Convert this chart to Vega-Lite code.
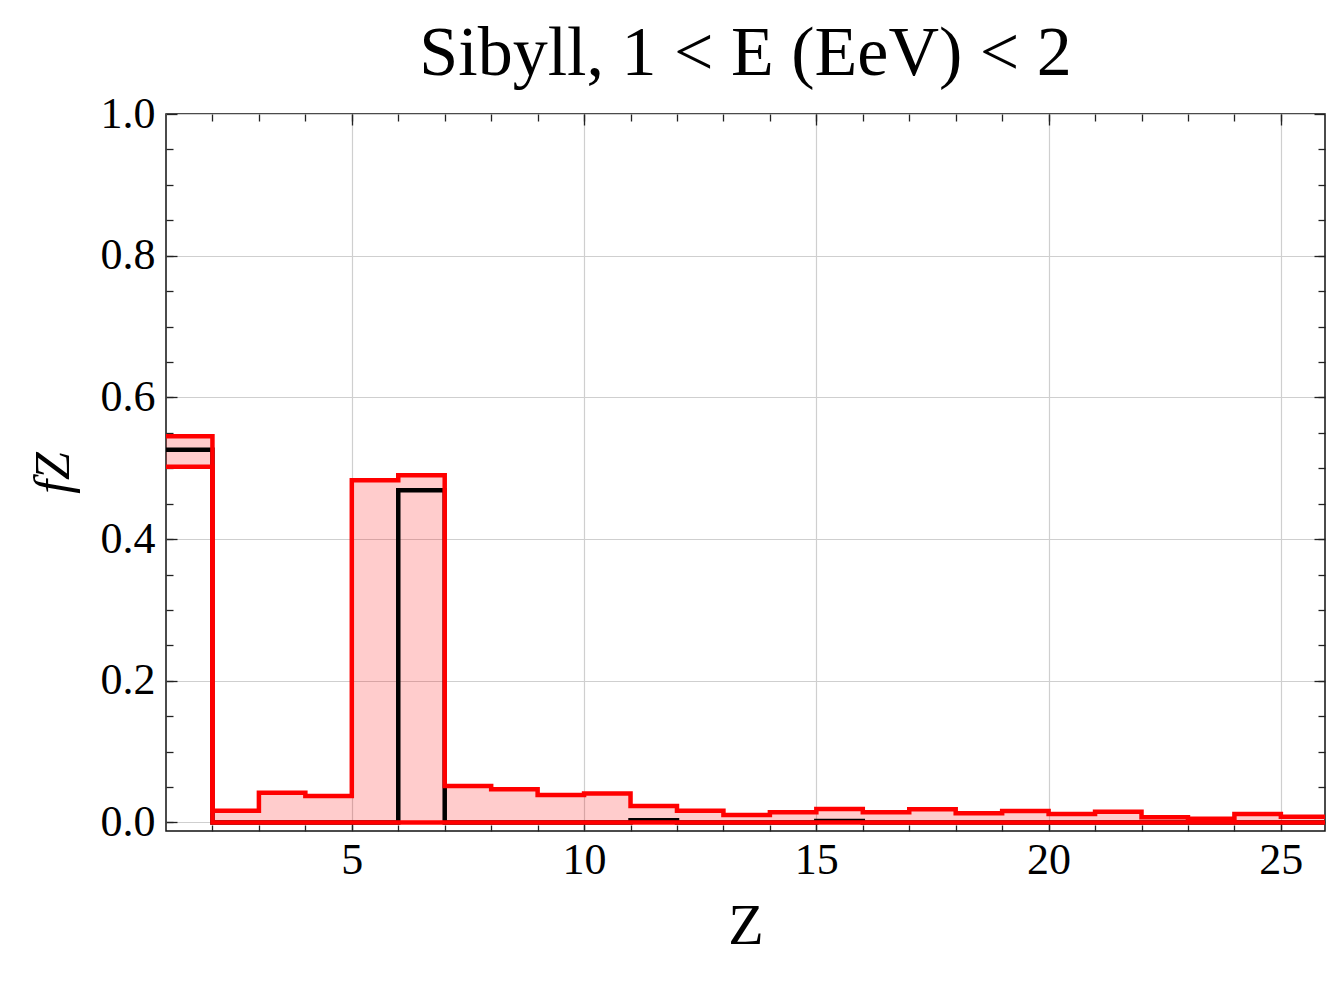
{
  "$schema": "https://vega.github.io/schema/vega-lite/v6.json",
  "width": 1159,
  "height": 717,
  "autosize": {"type": "none"},
  "padding": {"left": 166, "top": 114, "right": 9, "bottom": 153},
  "background": "white",
  "config": {
    "font": "Liberation Serif",
    "view": {"stroke": "#111111", "strokeWidth": 1.5},
    "axis": {
      "domain": false,
      "grid": false,
      "labels": false,
      "ticks": false,
      "title": null,
      "tickColor": "#222222",
      "tickWidth": 1.3,
      "labelColor": "black",
      "titleColor": "black",
      "labelFont": "Liberation Serif",
      "titleFont": "Liberation Serif",
      "titleFontWeight": "normal"
    }
  },
  "title": {
    "text": "Sibyll, 1 < E (EeV) < 2",
    "font": "Liberation Serif",
    "fontSize": 70,
    "fontWeight": "normal",
    "color": "black",
    "anchor": "middle",
    "offset": 2
  },
  "data": {
    "values": [
      {"z": 1, "lo": 0.502, "mid": 0.526, "hi": 0.545},
      {"z": 2, "lo": 0.0, "mid": 0.0, "hi": 0.0167},
      {"z": 3, "lo": 0.0, "mid": 0.0, "hi": 0.042},
      {"z": 4, "lo": 0.0, "mid": 0.0, "hi": 0.0374},
      {"z": 5, "lo": 0.0, "mid": 0.0, "hi": 0.483},
      {"z": 6, "lo": 0.0, "mid": 0.469, "hi": 0.49},
      {"z": 7, "lo": 0.0, "mid": 0.0, "hi": 0.0515},
      {"z": 8, "lo": 0.0, "mid": 0.0, "hi": 0.0469},
      {"z": 9, "lo": 0.0, "mid": 0.0, "hi": 0.0388},
      {"z": 10, "lo": 0.0, "mid": 0.0, "hi": 0.041},
      {"z": 11, "lo": 0.0, "mid": 0.003, "hi": 0.0233},
      {"z": 12, "lo": 0.0, "mid": 0.0, "hi": 0.0167},
      {"z": 13, "lo": 0.0, "mid": 0.0, "hi": 0.0106},
      {"z": 14, "lo": 0.0, "mid": 0.0, "hi": 0.0144},
      {"z": 15, "lo": 0.0, "mid": 0.002, "hi": 0.019},
      {"z": 16, "lo": 0.0, "mid": 0.0, "hi": 0.0144},
      {"z": 17, "lo": 0.0, "mid": 0.0, "hi": 0.0186},
      {"z": 18, "lo": 0.0, "mid": 0.0, "hi": 0.013},
      {"z": 19, "lo": 0.0, "mid": 0.0, "hi": 0.0162},
      {"z": 20, "lo": 0.0, "mid": 0.0, "hi": 0.012},
      {"z": 21, "lo": 0.0, "mid": 0.0, "hi": 0.0152},
      {"z": 22, "lo": 0.0, "mid": 0.0, "hi": 0.0073},
      {"z": 23, "lo": 0.0, "mid": 0.0, "hi": 0.0054},
      {"z": 24, "lo": 0.0, "mid": 0.0, "hi": 0.012},
      {"z": 25, "lo": 0.0, "mid": 0.0, "hi": 0.0082},
      {"z": 26, "lo": 0.0, "mid": 0.0, "hi": 0.0082}
    ]
  },
  "resolve": {"axis": {"x": "independent", "y": "independent"}},
  "layer": [
    {
      "mark": {"type": "line", "interpolate": "step-after", "strokeOpacity": 0, "clip": true},
      "encoding": {
        "x": {"field": "z", "type": "quantitative", "scale": {"domain": [1, 25.95], "nice": false, "zero": false},
          "axis": {"orient": "top", "ticks": true, "tickSize": -7, "values": [2,3,4,5,6,7,8,9,10,11,12,13,14,15,16,17,18,19,20,21,22,23,24,25]}},
        "y": {"field": "hi", "type": "quantitative", "scale": {"domain": [-0.012, 1], "nice": false, "zero": false},
          "axis": {"orient": "right", "ticks": true, "tickSize": -7, "values": [0,0.05,0.1,0.15,0.2,0.25,0.3,0.35,0.4,0.45,0.5,0.55,0.6,0.65,0.7,0.75,0.8,0.85,0.9,0.95]}}
      }
    },
    {
      "mark": {"type": "area", "interpolate": "step-after", "color": "#ff0000", "fillOpacity": 0.2, "clip": true},
      "encoding": {
        "x": {"field": "z", "type": "quantitative",
          "axis": {"orient": "bottom", "values": [5,10,15,20,25], "labels": true, "labelFontSize": 44, "labelPadding": 7, "labelFlush": false,
            "grid": true, "gridColor": "#cfcfcf", "gridWidth": 1.2,
            "title": "Z", "titleFontSize": 58, "titlePadding": 15}},
        "y": {"field": "lo", "type": "quantitative",
          "axis": {"orient": "left", "values": [0,0.2,0.4,0.6,0.8,1.0], "format": ".1f", "labels": true, "labelFontSize": 44, "labelPadding": 11, "labelFlush": false,
            "grid": true, "gridColor": "#cfcfcf", "gridWidth": 1.2,
            "title": "fZ", "titleFontSize": 50, "titleFontStyle": "italic", "titlePadding": 22}},
        "y2": {"field": "hi"}
      }
    },
    {
      "mark": {"type": "line", "interpolate": "step-after", "color": "black", "strokeWidth": 4.5, "strokeJoin": "miter", "clip": true},
      "encoding": {
        "x": {"field": "z", "type": "quantitative",
          "axis": {"orient": "bottom", "ticks": true, "tickSize": -11, "values": [5,10,15,20,25]}},
        "y": {"field": "mid", "type": "quantitative",
          "axis": {"orient": "left", "ticks": true, "tickSize": -11, "values": [0,0.2,0.4,0.6,0.8,1.0]}}
      }
    },
    {
      "mark": {"type": "line", "interpolate": "step-after", "color": "#ff0000", "strokeWidth": 4.5, "strokeJoin": "miter", "clip": true},
      "encoding": {
        "x": {"field": "z", "type": "quantitative",
          "axis": {"orient": "bottom", "ticks": true, "tickSize": -6, "values": [2,3,4,5,6,7,8,9,10,11,12,13,14,15,16,17,18,19,20,21,22,23,24,25]}},
        "y": {"field": "lo", "type": "quantitative",
          "axis": {"orient": "left", "ticks": true, "tickSize": -7, "values": [0,0.05,0.1,0.15,0.2,0.25,0.3,0.35,0.4,0.45,0.5,0.55,0.6,0.65,0.7,0.75,0.8,0.85,0.9,0.95]}}
      }
    },
    {
      "mark": {"type": "line", "interpolate": "step-after", "color": "#ff0000", "strokeWidth": 4.5, "strokeJoin": "miter", "clip": true},
      "encoding": {
        "x": {"field": "z", "type": "quantitative",
          "axis": {"orient": "top", "ticks": true, "tickSize": -11, "values": [5,10,15,20,25]}},
        "y": {"field": "hi", "type": "quantitative",
          "axis": {"orient": "right", "ticks": true, "tickSize": -11, "values": [0,0.2,0.4,0.6,0.8,1.0]}}
      }
    }
  ]
}
